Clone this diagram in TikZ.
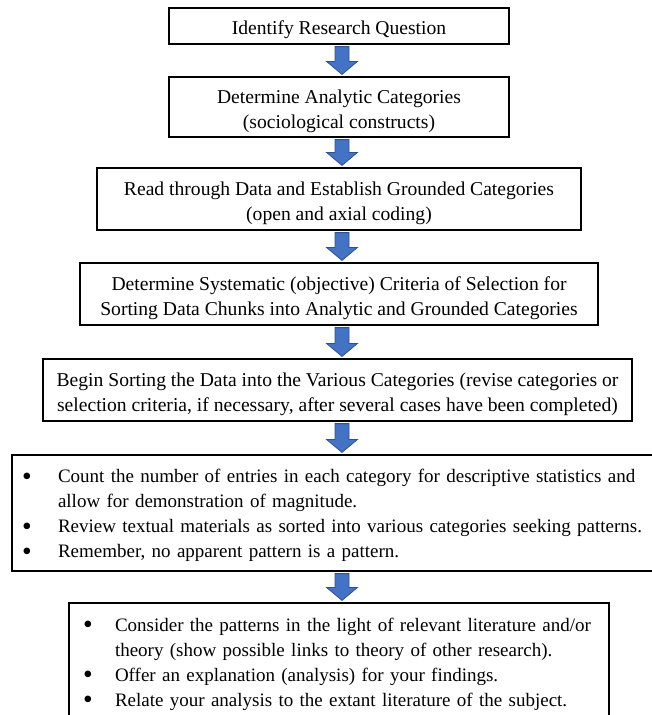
\documentclass[tikz,border=0pt]{standalone}
\usepackage{fontspec}
\setmainfont{Liberation Serif}
\usetikzlibrary{calc}
\definecolor{arrowfill}{HTML}{4472C4}
\definecolor{arrowline}{HTML}{2F528F}
\newcommand\bigbullet{\raisebox{-2.6pt}{\scalebox{1.45}{\textbullet}}}
\newcommand\firststrut{\rule{0pt}{21.5pt}}
\tikzset{
  stepbox/.style={draw=black, line width=1.2pt, inner sep=0pt, align=center,
    font=\fontsize{19.6}{25}\selectfont},
  listbox/.style={draw=black, line width=1.2pt, inner ysep=0pt, align=left,
    font=\fontsize{19}{25}\selectfont},
  blockarrow/.style={fill=arrowfill, draw=arrowline, line width=0.8pt, line join=miter}
}
\newcommand\blkarrow[2]{%
  \path[blockarrow]
    ($(#1.south -| ax)+(-7pt,-2pt)$) -- ($(#1.south -| ax)+(7pt,-2pt)$) --
    ($(#2.north -| ax)+(7pt,15pt)$) -- ($(#2.north -| ax)+(15.5pt,15pt)$) --
    ($(#2.north -| ax)+(0pt,2pt)$) -- ($(#2.north -| ax)+(-15.5pt,15pt)$) --
    ($(#2.north -| ax)+(-7pt,15pt)$) -- cycle;}
\begin{document}
\begin{tikzpicture}[x=1pt,y=1pt]
\useasboundingbox (0,0) rectangle (652,-715);
\fill[white] (0,0) rectangle (652,-715);
\coordinate (ax) at (342,0);

\node[stepbox, minimum width=340pt, minimum height=36pt] (b1) at (339,-26)
  {\firststrut Identify Research Question};
\node[stepbox, minimum width=340pt, minimum height=60pt] (b2) at (339,-107)
  {\firststrut Determine Analytic Categories\\(sociological constructs)};
\node[stepbox, minimum width=484pt, minimum height=62pt] (b3) at (339,-199)
  {\firststrut Read through Data and Establish Grounded Categories\\(open and axial coding)};
\node[stepbox, minimum width=518pt, minimum height=62pt] (b4) at (339,-294)
  {\firststrut Determine Systematic (objective) Criteria of Selection for\\Sorting Data Chunks into Analytic and Grounded Categories};
\node[stepbox, minimum width=589pt, minimum height=62pt] (b5) at (337.5,-390)
  {\firststrut Begin Sorting the Data into the Various Categories (revise categories or\\selection criteria, if necessary, after several cases have been completed)};
\node[listbox, inner xsep=10pt, text width=630pt, minimum height=116pt] (b6) at (337,-513)
  {\begin{tabular}{@{}p{36pt}@{}l@{}}
   \bigbullet & \firststrut Count the number of entries in each category for descriptive statistics and\\
              & allow for demonstration of magnitude.\\
   \bigbullet & Review textual materials as sorted into various categories seeking patterns.\\
   \bigbullet & Remember, no apparent pattern is a pattern.
   \end{tabular}};
\node[listbox, inner xsep=14pt, text width=512pt, minimum height=117pt] (b7) at (339,-661.5)
  {\begin{tabular}{@{}p{32pt}@{}l@{}}
   \bigbullet & \firststrut Consider the patterns in the light of relevant literature and/or\\
              & theory (show possible links to theory of other research).\\
   \bigbullet & Offer an explanation (analysis) for your findings.\\
   \bigbullet & Relate your analysis to the extant literature of the subject.
   \end{tabular}};

\blkarrow{b1}{b2}
\blkarrow{b2}{b3}
\blkarrow{b3}{b4}
\blkarrow{b4}{b5}
\blkarrow{b5}{b6}
\blkarrow{b6}{b7}
\end{tikzpicture}
\end{document}
